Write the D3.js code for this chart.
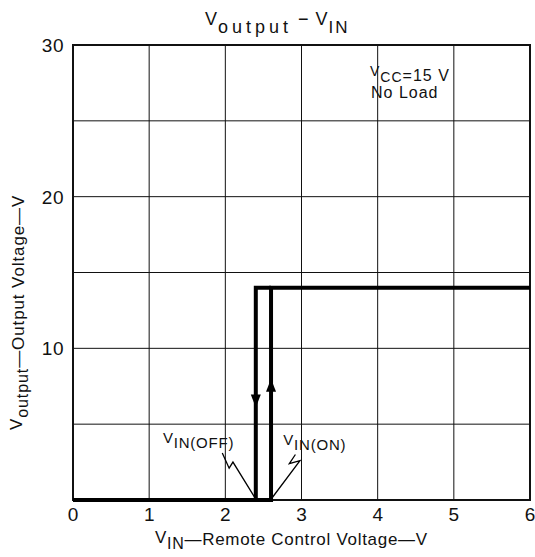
<!DOCTYPE html>
<html>
<head>
<meta charset="utf-8">
<script src="https://cdn.jsdelivr.net/npm/d3@7"></script>
<style>
  body { margin: 0; background: #fff; }
  text { font-family: "Liberation Sans", Arial, sans-serif; fill: #111; }
</style>
</head>
<body>
<svg id="chart" width="535" height="557"></svg>
<script>
// data
var xTicks = [0, 1, 2, 3, 4, 5, 6];
var yTicks = [10, 20, 30];
var yGrid = [5, 10, 15, 20, 25];
// hysteresis loop: turn-on path and turn-off path
var onPath = [[0, 0], [2.6, 0], [2.6, 14], [6, 14]];
var offPath = [[2.6, 14], [2.4, 14], [2.4, 0], [2.6, 0]];
// arrow tips on the two vertical legs
var arrows = [
    { x: 2.4, y: 6.1, dir: "down" },
    { x: 2.6, y: 8.0, dir: "up" }
];
// lightning-shaped leaders for the threshold labels
var offLeader = [[1.96, 3.1], [2.05, 2.1], [2.1, 2.5], [2.4, 0.05]];
var onLeader = [[2.92, 3.0], [2.84, 2.4], [2.98, 2.6], [2.6, 0.05]];

var svg = d3.select("#chart");
var x = d3.scaleLinear().domain([0, 6]).range([73, 530]);
var y = d3.scaleLinear().domain([0, 30]).range([500, 45]);

// grid
svg.append("g").selectAll("line").data(xTicks.slice(1, -1)).enter().append("line")
    .attr("x1", d => x(d)).attr("x2", d => x(d))
    .attr("y1", y(0)).attr("y2", y(30))
    .attr("stroke", "#111").attr("stroke-width", 1);
svg.append("g").selectAll("line").data(yGrid).enter().append("line")
    .attr("x1", x(0)).attr("x2", x(6))
    .attr("y1", d => y(d)).attr("y2", d => y(d))
    .attr("stroke", "#111").attr("stroke-width", 1);

// frame
svg.append("rect")
    .attr("x", x(0)).attr("y", y(30))
    .attr("width", x(6) - x(0)).attr("height", y(0) - y(30))
    .attr("fill", "none").attr("stroke", "#111").attr("stroke-width", 2);

// tick labels
svg.append("g").selectAll("text").data(xTicks).enter().append("text")
    .attr("x", d => x(d)).attr("y", y(0) + 21)
    .attr("text-anchor", "middle").attr("font-size", 19)
    .text(d => d);
svg.append("g").selectAll("text").data(yTicks).enter().append("text")
    .attr("x", x(0) - 9).attr("y", d => y(d) + 7)
    .attr("text-anchor", "end").attr("font-size", 19)
    .attr("letter-spacing", 0.5)
    .text(d => d);

// curve
var line = d3.line().x(d => x(d[0])).y(d => y(d[1]));
[onPath, offPath].forEach(function (p) {
    svg.append("path").attr("d", line(p))
        .attr("fill", "none").attr("stroke", "#000")
        .attr("stroke-width", 4).attr("stroke-linejoin", "miter");
});

// arrow heads
svg.append("g").selectAll("path").data(arrows).enter().append("path")
    .attr("d", function (d) {
        var cx = x(d.x), ty = y(d.y), s = d.dir === "down" ? -1 : 1;
        return "M" + cx + "," + ty + "L" + (cx - 5) + "," + (ty + s * 13) +
            "L" + (cx + 5) + "," + (ty + s * 13) + "Z";
    })
    .attr("fill", "#000");

// leaders
[offLeader, onLeader].forEach(function (p) {
    svg.append("path").attr("d", line(p))
        .attr("fill", "none").attr("stroke", "#000").attr("stroke-width", 1.3);
});

// text with subscripts
function subText(g, parts, size, ls) {
    var t = g.append("text").attr("font-size", size)
        .attr("letter-spacing", ls || 0);
    parts.forEach(function (p) {
        var s = t.append("tspan").attr("dy", p.dy || 0)
            .attr("font-size", p.size || size).text(p.t);
        if (p.ls != null) s.attr("letter-spacing", p.ls);
    });
    return t;
}

// title
subText(svg, [
    { t: "V" }, { t: "output", dy: 8, size: 18, ls: 4 },
    { t: " \u2212 ", dy: -8 }, { t: "V" }, { t: "IN", dy: 8, size: 17, ls: 2 }
], 18, 1).attr("x", 205).attr("y", 25);

// conditions
subText(svg, [
    { t: "V" }, { t: "CC", dy: 6, size: 14 }, { t: "=15 V", dy: -1, size: 16 }
], 14, 1).attr("x", 370).attr("y", 76);
svg.append("text").attr("x", 371).attr("y", 98).attr("font-size", 16)
    .attr("letter-spacing", 1).text("No Load");

// threshold labels
subText(svg, [{ t: "V" }, { t: "IN(OFF)", dy: 5, size: 15 }], 15, 0.8)
    .attr("x", x(1.18)).attr("y", y(3.75));
subText(svg, [{ t: "V" }, { t: "IN(ON)", dy: 5, size: 15 }], 15, 0.8)
    .attr("x", x(2.76)).attr("y", y(3.6));

// x axis label
subText(svg, [
    { t: "V" }, { t: "IN", dy: 6, size: 16 },
    { t: "\u2014Remote Control Voltage\u2014V", dy: -4 }
], 17, 0.7).attr("x", 155).attr("y", 543);

// y axis label
subText(svg, [
    { t: "V" }, { t: "output", dy: 6, size: 16 },
    { t: "\u2014Output Voltage\u2014V", dy: -4 }
], 17, 0.9).attr("transform", "translate(22,430) rotate(-90)");
</script>
</body>
</html>
